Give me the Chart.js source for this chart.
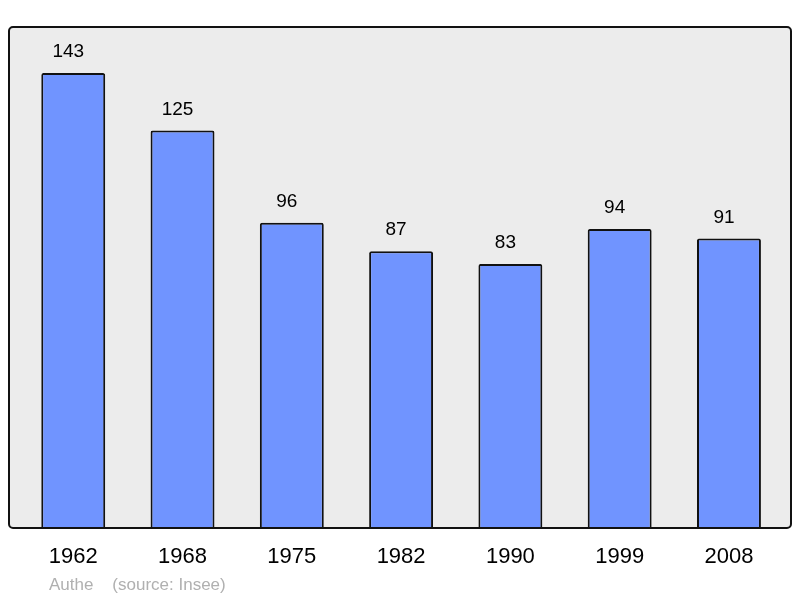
<!DOCTYPE html>
<html>
<head>
<meta charset="utf-8">
<script src="https://cdn.jsdelivr.net/npm/chart.js@4/dist/chart.umd.min.js"></script>
<style>
  html, body { margin: 0; padding: 0; background: #fff; }
  #wrap { width: 800px; height: 598px; }
</style>
</head>
<body>
<div id="wrap"><canvas id="graficoPop" width="800" height="598"></canvas></div>
<script>
// données (Insee)
const annees = ['1962', '1968', '1975', '1982', '1990', '1999', '2008'];
const population = [143, 125, 96, 87, 83, 94, 91];
const source = 'Authe    (source: Insee)';

// cadre gris derrière les barres
const cadre = {
  id: 'cadre',
  beforeDatasetsDraw(chart) {
    const { ctx, chartArea: a } = chart;
    const x0 = a.left - 9.6, x1 = a.right + 7.4;
    ctx.save();
    ctx.beginPath();
    ctx.roundRect(x0, a.top, x1 - x0, a.bottom - a.top, 4);
    ctx.fillStyle = '#ececec';
    ctx.fill();
    ctx.restore();
  },
  afterDatasetsDraw(chart) {
    const { ctx, chartArea: a } = chart;
    const x0 = a.left - 9.6, x1 = a.right + 7.4;
    ctx.save();
    ctx.beginPath();
    ctx.roundRect(x0, a.top, x1 - x0, a.bottom - a.top, 4);
    ctx.lineWidth = 2;
    ctx.strokeStyle = '#111';
    ctx.stroke();

    // valeurs au-dessus des barres (un peu décalées à gauche comme l'original)
    ctx.font = '19px "Liberation Sans", Arial, sans-serif';
    ctx.fillStyle = '#000';
    ctx.textAlign = 'center';
    ctx.textBaseline = 'middle';
    chart.getDatasetMeta(0).data.forEach((bar, i) => {
      ctx.fillText(population[i], bar.x - 5, bar.y - 21);
    });

    // source
    ctx.font = '17px "Liberation Sans", Arial, sans-serif';
    ctx.fillStyle = '#b0b0b0';
    ctx.textAlign = 'left';
    ctx.fillText(source, 49, 585);
    ctx.restore();
  }
};

const ctx = document.getElementById('graficoPop').getContext('2d');
new Chart(ctx, {
  type: 'bar',
  data: {
    labels: annees,
    datasets: [{
      data: population,
      backgroundColor: '#7094ff',
      borderColor: '#111',
      borderWidth: 2,
      borderRadius: { topLeft: 2, topRight: 2 },
      borderSkipped: 'bottom',
      categoryPercentage: 1,
      barPercentage: 0.585
    }]
  },
  options: {
    responsive: false,
    animation: false,
    devicePixelRatio: 1,
    layout: { padding: { left: 18.6, right: 16.4, top: 27, bottom: 0 } },
    plugins: { legend: { display: false }, tooltip: { enabled: false } },
    scales: {
      x: {
        grid: { display: false, drawTicks: false },
        border: { display: false },
        ticks: {
          color: '#000',
          padding: 16,
          font: { family: '"Liberation Sans", Arial, sans-serif', size: 22 }
        },
        afterFit: s => { s.height = 70; }
      },
      y: {
        display: false,
        min: 0,
        max: 157.5
      }
    }
  },
  plugins: [cadre]
});
</script>
</body>
</html>
